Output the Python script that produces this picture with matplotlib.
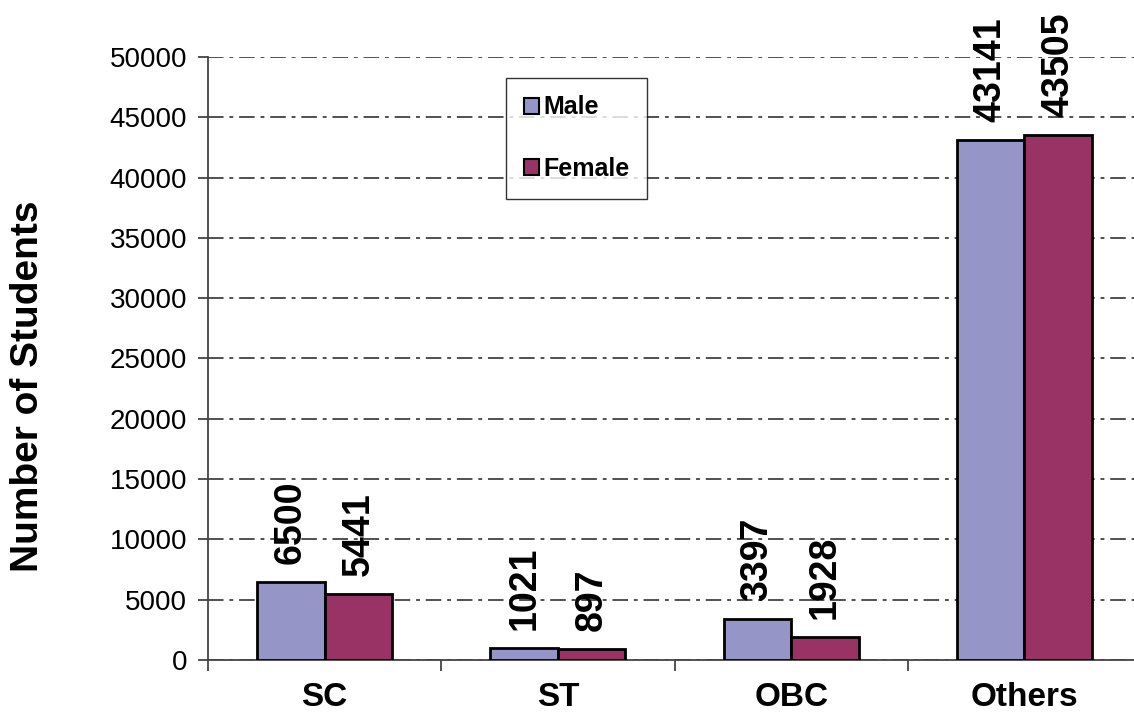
import matplotlib
matplotlib.use("Agg")
import matplotlib.pyplot as plt
import numpy as np

categories = ["SC", "ST", "OBC", "Others"]
male = [6500, 1021, 3397, 43141]
female = [5441, 897, 1928, 43505]
series_names = ["Male", "Female"]
yticks = [0, 5000, 10000, 15000, 20000, 25000, 30000, 35000, 40000, 45000, 50000]

plt.rcParams['font.family'] = ['Liberation Sans', 'DejaVu Sans']

W, H = 1134, 715
fig = plt.figure(figsize=(W / 100, H / 100), dpi=100)
ax = fig.add_axes([208 / W, (H - 660) / H, (1141 - 208) / W, (660 - 57) / H])

x = np.arange(len(categories))
bw = 0.289
c_male = "#9595C8"
c_female = "#993366"
b1 = ax.bar(x - bw / 2, male, bw, color=c_male, edgecolor="black", linewidth=2, label=series_names[0], zorder=3)
b2 = ax.bar(x + bw / 2, female, bw, color=c_female, edgecolor="black", linewidth=2, label=series_names[1], zorder=3)

for bars, vals in ((b1, male), (b2, female)):
    for rect, v in zip(bars, vals):
        ax.annotate(str(v), (rect.get_x() + rect.get_width() / 2, v),
                    xytext=(0, 13), textcoords="offset points",
                    rotation=90, ha="center", va="bottom",
                    fontsize=27, fontweight="bold", annotation_clip=False, clip_on=False)

ax.set_xlim(-0.5, len(categories) - 0.5)
ax.set_ylim(0, 50000)
ax.set_yticks(yticks)
ax.set_yticklabels([str(t) for t in yticks], fontsize=20)
ax.set_xticks(x)
ax.set_xticklabels(categories, fontsize=24, fontweight="bold")
ax.set_xticks(np.arange(len(categories) + 1) - 0.5, minor=True)
ax.tick_params(axis="x", which="major", length=0, pad=16)
ax.tick_params(axis="x", which="minor", length=8, width=1.3, color="#444444", direction="out")
ax.tick_params(axis="y", length=7, width=1.3, color="#444444", pad=8, direction="out")

ax.grid(axis="y", linestyle=(0, (8, 3, 2, 3)), color="#505050", linewidth=1.4, zorder=0)
ax.set_axisbelow(True)
for s in ("top", "right"):
    ax.spines[s].set_visible(False)
ax.spines["left"].set_color("#444444")
ax.spines["left"].set_linewidth(1.3)
ax.spines["bottom"].set_color("#444444")
ax.spines["bottom"].set_linewidth(1.3)

ylab = ax.set_ylabel("Number of Students", fontsize=28, fontweight="bold")
ylab.set_verticalalignment("center")
ylab.set_rotation_mode("anchor")
ax.yaxis.set_label_coords((28 - 208) / (1141 - 208), (660 - 386) / (660 - 57))

leg = fig.legend(loc="upper left", bbox_to_anchor=(506 / W, 1 - 78 / H), borderaxespad=0,
                 prop={"size": 18, "weight": "bold"}, frameon=True, fancybox=False,
                 edgecolor="black", handlelength=0.6, handleheight=0.6, handletextpad=0.2,
                 labelspacing=1.5, borderpad=0.7)
leg.get_frame().set_linewidth(1.0)
for h in leg.legend_handles:
    h.set_linewidth(1.5)

fig.savefig("out.png", dpi=100)
